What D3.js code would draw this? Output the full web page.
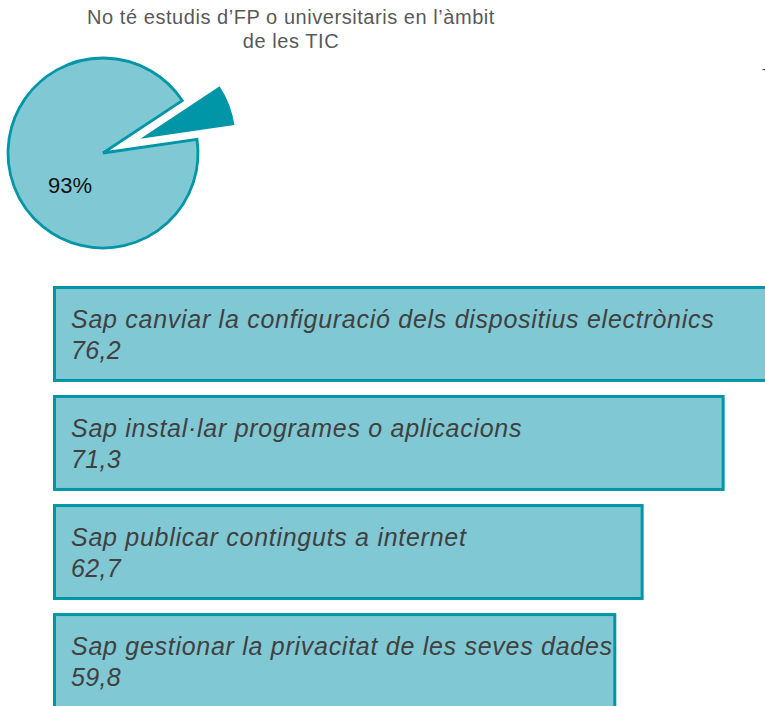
<!DOCTYPE html>
<html>
<head>
<meta charset="utf-8">
<script src="https://cdn.jsdelivr.net/npm/d3@7"></script>
<style>
  html, body { margin: 0; padding: 0; background: #fff; overflow: hidden; }
  svg { display: block; }
</style>
</head>
<body>
<svg id="chart" width="765" height="706"></svg>
<script>
// ---- data ----
const pieTitle = ["No té estudis d\u2019FP o universitaris en l\u2019àmbit", "de les TIC"];
const pieCategories = ["Sí", "No"];
const pieValues = [7, 93];
const pieLabels = ["", "93%"];

const barCategories = [
  "Sap canviar la configuració dels dispositius electrònics",
  "Sap instal·lar programes o aplicacions",
  "Sap publicar continguts a internet",
  "Sap gestionar la privacitat de les seves dades"
];
const barValues = [76.2, 71.3, 62.7, 59.8];
const barLabels = ["76,2", "71,3", "62,7", "59,8"];

// ---- styles ----
const light = "#80c8d3";
const dark = "#0096a8";
const textGray = "#404040";
const font = "'Liberation Sans', Arial, sans-serif";

const svg = d3.select("#chart");

// ---- pie ----
const cx = 103, cy = 153, R = 95;
const start = 56.5 * Math.PI / 180;
const pie = d3.pie().sort(null).value(d => d).startAngle(start).endAngle(start + 2 * Math.PI);
const arcs = pie(pieValues);
const arc = d3.arc().innerRadius(0).outerRadius(R);
const explode = 40;

const pg = svg.append("g").attr("transform", `translate(${cx},${cy})`);
pg.selectAll("path").data(arcs).enter().append("path")
  .attr("d", arc)
  .attr("transform", (d, i) => {
    if (i === 0) {
      const a = (d.startAngle + d.endAngle) / 2;
      return `translate(${Math.sin(a) * explode},${-Math.cos(a) * explode})`;
    }
    return null;
  })
  .attr("fill", (d, i) => i === 0 ? dark : light)
  .attr("stroke", (d, i) => i === 0 ? "none" : dark)
  .attr("stroke-width", 2.8)
  .attr("stroke-linejoin", "miter");

pg.append("text")
  .attr("x", -33).attr("y", 40)
  .attr("text-anchor", "middle")
  .attr("font-family", font)
  .attr("font-size", 22)
  .attr("fill", "#111")
  .text(pieLabels[1]);

svg.append("text")
  .attr("x", 291).attr("y", 24)
  .attr("text-anchor", "middle")
  .attr("font-family", font)
  .attr("font-size", 20)
  .attr("letter-spacing", 0.55)
  .attr("fill", "#595959")
  .selectAll("tspan").data(pieTitle).enter().append("tspan")
  .attr("x", 291)
  .attr("dy", (d, i) => i === 0 ? 0 : 24)
  .text(d => d);

// small clipped mark at right edge
svg.append("text")
  .attr("x", 762).attr("y", 73)
  .attr("font-family", font)
  .attr("font-size", 12)
  .attr("fill", "#333")
  .text("-");

// ---- bars ----
const x = d3.scaleLinear().domain([0, 100]).range([53, 995]);
const y = d3.scaleBand().domain(barCategories).range([286, 286 + 109 * 4 - 13]).paddingInner(0.12).paddingOuter(0).align(0);

const bg = svg.append("g");
const bars = bg.selectAll("g.bar").data(barCategories).enter().append("g").attr("class", "bar");
const sw = 3;
bars.append("rect")
  .attr("x", x(0) + sw / 2)
  .attr("y", d => y(d) + sw / 2)
  .attr("width", (d, i) => x(barValues[i]) - x(0) - sw)
  .attr("height", y.bandwidth() - sw)
  .attr("fill", light)
  .attr("stroke", dark)
  .attr("stroke-width", sw);

bars.append("text")
  .attr("x", 71)
  .attr("y", d => y(d) + 42)
  .attr("font-family", font)
  .attr("font-style", "italic")
  .attr("font-size", 25)
  .attr("letter-spacing", 0.72)
  .attr("fill", textGray)
  .text(d => d);

bars.append("text")
  .attr("x", 71)
  .attr("y", d => y(d) + 73)
  .attr("font-family", font)
  .attr("font-style", "italic")
  .attr("font-size", 25)
  .attr("letter-spacing", 0.3)
  .attr("fill", textGray)
  .text((d, i) => barLabels[i]);
</script>
</body>
</html>
